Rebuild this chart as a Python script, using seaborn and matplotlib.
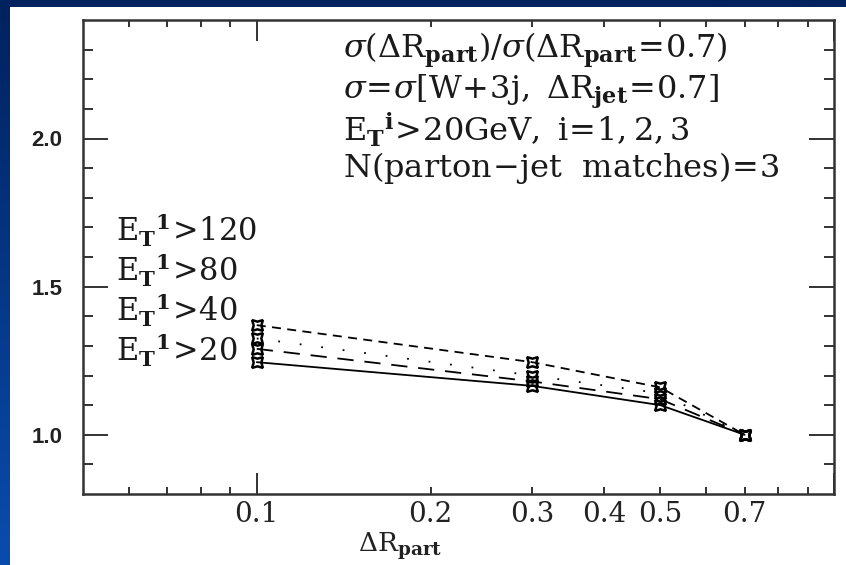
import numpy as np
import pandas as pd
import matplotlib
matplotlib.use("Agg")
import matplotlib.pyplot as plt
from matplotlib.patches import Rectangle
from matplotlib.ticker import FixedLocator, FixedFormatter, NullFormatter
import seaborn as sns

# ---- data -------------------------------------------------------------
delta_r = [0.1, 0.3, 0.5, 0.7]
cut_labels = ["E_T^1>120", "E_T^1>80", "E_T^1>40", "E_T^1>20"]
ratio_et120 = [1.37, 1.245, 1.16, 1.0]
ratio_et80 = [1.325, 1.20, 1.14, 1.0]
ratio_et40 = [1.29, 1.18, 1.12, 1.0]
ratio_et20 = [1.245, 1.165, 1.10, 1.0]

x_major_ticks = [0.1, 1.0]
x_major_labels = ["0.1", ""]
x_minor_ticks = [0.06, 0.07, 0.08, 0.09, 0.2, 0.3, 0.4, 0.5, 0.6, 0.7, 0.8, 0.9]
x_minor_labels = ["", "", "", "", "0.2", "0.3", "0.4", "0.5", "", "0.7", "", ""]
y_major_ticks = [1.0, 1.5, 2.0]
y_major_labels = ["1.0", "1.5", "2.0"]

df = pd.concat([
    pd.DataFrame({"dr": delta_r, "ratio": vals, "cut": lab})
    for lab, vals in zip(cut_labels, [ratio_et120, ratio_et80, ratio_et40, ratio_et20])
])

# ---- theme ----------------------------------------------------------------
sns.set_theme(style="white")
plt.rcParams["mathtext.fontset"] = "dejavuserif"
plt.rcParams["font.family"] = ["DejaVu Serif"]
plt.rcParams.update({
    "xtick.bottom": True, "xtick.top": True,
    "ytick.left": True, "ytick.right": True,
    "xtick.direction": "in", "ytick.direction": "in",
    "xtick.color": "#222222", "ytick.color": "#222222",
    "xtick.major.width": 1.3, "xtick.minor.width": 1.3,
    "ytick.major.width": 1.3, "ytick.minor.width": 1.3,
})

W, H = 846, 565
fig = plt.figure(figsize=(W / 100, H / 100), dpi=100)

# slide-style blue frame with a white panel
bg = fig.add_axes([0, 0, 1, 1], zorder=-10)
grad = np.linspace(0, 1, 256).reshape(-1, 1)
cmap = matplotlib.colors.LinearSegmentedColormap.from_list("slide", ["#00225e", "#0a4cae"])
bg.imshow(grad, aspect="auto", cmap=cmap, extent=[0, 1, 0, 1], origin="upper")
bg.add_patch(Rectangle((10 / W, 0), 1, (H - 7) / H, facecolor="white", edgecolor="none"))
bg.set_xlim(0, 1)
bg.set_ylim(0, 1)
bg.axis("off")

ax = fig.add_axes([83 / W, (H - 494) / H, (834 - 83) / W, (494 - 20) / H])
ax.set_facecolor("none")

sns.lineplot(
    data=df, x="dr", y="ratio", hue="cut", style="cut",
    palette=["black"] * 4,
    dashes={cut_labels[0]: (5, 3.5), cut_labels[1]: (1, 11),
            cut_labels[2]: (9, 6), cut_labels[3]: ""},
    markers={lab: (4, 1, 45) for lab in cut_labels},
    markersize=11, markerfacecolor="none", markeredgecolor="black",
    markeredgewidth=1.8, linewidth=1.3, legend=False, ax=ax,
)

ax.set_xscale("log")
ax.set_xlim(0.05, 1.0)
ax.set_ylim(0.8, 2.4)

ax.xaxis.set_major_locator(FixedLocator(x_major_ticks))
ax.xaxis.set_major_formatter(FixedFormatter(x_major_labels))
ax.xaxis.set_minor_locator(FixedLocator(x_minor_ticks))
ax.xaxis.set_minor_formatter(FixedFormatter(x_minor_labels))
ax.yaxis.set_major_locator(FixedLocator(y_major_ticks))
ax.yaxis.set_major_formatter(FixedFormatter(y_major_labels))
ax.yaxis.set_minor_locator(FixedLocator(np.round(np.arange(0.9, 2.35, 0.1), 2)))
ax.yaxis.set_minor_formatter(NullFormatter())

ax.tick_params(axis="x", which="major", length=15, labelsize=20, pad=5,
               bottom=True, top=True)
ax.tick_params(axis="x", which="minor", length=5, labelsize=20, pad=5,
               bottom=True, top=True)
ax.tick_params(axis="y", which="major", length=18, pad=15, labelsize=16,
               left=True, right=True)
ax.tick_params(axis="y", which="minor", length=7, left=True, right=True)
plt.setp(ax.get_yticklabels(), fontfamily="Liberation Sans", fontweight="bold")

for sp in ax.spines.values():
    sp.set_visible(True)
    sp.set_color("#333333")
    sp.set_linewidth(1.8)

ax.set_xlabel(r"$\Delta\mathrm{R}_{\mathbf{part}}$", fontsize=19, color="#222222")
ax.xaxis.set_label_coords((400 - 83) / (834 - 83), -0.077)
ax.set_ylabel("")

# ---- annotation text ----------------------------------------------------
def to_fig(x, y):
    return x / W, 1 - y / H

info_lines = [
    r"$\sigma(\Delta\mathrm{R}_{\mathbf{part}})/\sigma(\Delta\mathrm{R}_{\mathbf{part}}\!=\!0.7)$",
    r"$\sigma\!=\!\sigma[\mathrm{W}\!+\!3\mathrm{j},\ \Delta\mathrm{R}_{\mathbf{jet}}\!=\!0.7]$",
    r"$\mathrm{E}_{\mathbf{T}}{}^{\mathbf{i}}\!>\!20\mathrm{GeV},\ \mathrm{i}\!=\!1,2,3$",
    r"$\mathrm{N(parton}\!-\!\mathrm{jet\ \ matches)}\!=\!3$",
]
for txt, yy in zip(info_lines, [50, 92, 130, 168]):
    fig.text(*to_fig(343, yy), txt, fontsize=23, va="center", ha="left", color="#1a1a1a")

cut_text = [r"$\mathrm{E}_{\mathbf{T}}{}^{\mathbf{1}}\!>\!120$",
            r"$\mathrm{E}_{\mathbf{T}}{}^{\mathbf{1}}\!>\!80$",
            r"$\mathrm{E}_{\mathbf{T}}{}^{\mathbf{1}}\!>\!40$",
            r"$\mathrm{E}_{\mathbf{T}}{}^{\mathbf{1}}\!>\!20$"]
for txt, yy in zip(cut_text, [230, 270, 310, 350]):
    fig.text(*to_fig(116, yy), txt, fontsize=22, va="center", ha="left", color="#1a1a1a")

fig.savefig("out.png", dpi=100)
